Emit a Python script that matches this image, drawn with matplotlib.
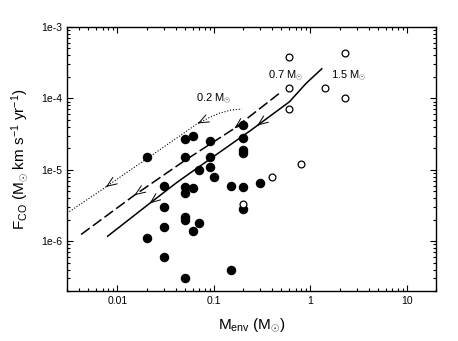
import numpy as np
import matplotlib
matplotlib.use('Agg')
import matplotlib.pyplot as plt
from matplotlib.ticker import FixedLocator, LogLocator, NullFormatter

plt.rcParams['font.family'] = ['Liberation Sans', 'DejaVu Sans']
plt.rcParams['mathtext.fontset'] = 'custom'
plt.rcParams['mathtext.rm'] = 'Liberation Sans'
plt.rcParams['mathtext.it'] = 'Liberation Sans'

# filled circles (M_env, F_CO)
filled_m = [0.02, 0.02, 0.03, 0.03, 0.03, 0.03, 0.05, 0.05, 0.05, 0.05, 0.05,
            0.05, 0.05, 0.06, 0.06, 0.06, 0.07, 0.07, 0.09, 0.09, 0.09, 0.1,
            0.15, 0.15, 0.2, 0.2, 0.2, 0.2, 0.2, 0.2, 0.3]
filled_f = [1.5e-5, 1.1e-6, 6e-6, 3e-6, 1.6e-6, 6e-7, 2.7e-5, 1.5e-5, 5.8e-6, 4.7e-6, 2.2e-6,
            2.0e-6, 3e-7, 3.0e-5, 5.5e-6, 1.4e-6, 1.0e-5, 1.8e-6, 2.5e-5, 1.5e-5, 1.1e-5, 8e-6,
            6e-6, 4e-7, 4.2e-5, 2.8e-5, 1.9e-5, 1.7e-5, 5.7e-6, 2.8e-6, 6.5e-6]

# open circles
open_m = [0.2, 0.4, 0.8, 0.6, 0.6, 0.6, 1.4, 2.3, 2.3]
open_f = [3.3e-6, 8e-6, 1.2e-5, 3.8e-4, 1.4e-4, 7e-5, 1.4e-4, 4.3e-4, 1.0e-4]

# evolutionary tracks
track02_m = [0.003, 0.0076, 0.02, 0.068, 0.09, 0.114, 0.15, 0.194]
track02_f = [2.46e-6, 5.75e-6, 1.42e-5, 4.46e-5, 5.4e-5, 6.2e-5, 6.85e-5, 7.1e-5]
track07_m = [0.0042, 0.015, 0.05, 0.163, 0.5]
track07_f = [1.24e-6, 4.4e-6, 1.35e-5, 3.8e-5, 1.24e-4]
track15_m = [0.0079, 0.0215, 0.042, 0.243, 0.605, 0.90, 1.31]
track15_f = [1.17e-6, 3.37e-6, 6.76e-6, 3.6e-5, 8.95e-5, 1.62e-4, 2.6e-4]

arrows02 = [0.0076, 0.068]
arrows07 = [0.015, 0.163]
arrows15 = [0.0215, 0.28]


def curve_at(xs, ys, x):
    return 10 ** np.interp(np.log10(x), np.log10(xs), np.log10(ys))


fig = plt.figure(figsize=(4.58, 3.41), dpi=100)
ax = fig.add_axes([0.1463, 0.1466, 0.8057, 0.7742])

ax.plot(track02_m, track02_f, color='k', lw=0.8, linestyle=(0, (1, 1.6)))
ax.plot(track07_m, track07_f, color='k', lw=1.1, linestyle=(0, (7, 2.5)))
ax.plot(track15_m, track15_f, color='k', lw=1.1)

for xs, ys, arr in [(track02_m, track02_f, arrows02),
                    (track07_m, track07_f, arrows07),
                    (track15_m, track15_f, arrows15)]:
    for a in arr:
        tip = (a, curve_at(xs, ys, a))
        tail = (a * 1.03, curve_at(xs, ys, a * 1.03))
        ax.annotate('', xy=tip, xytext=tail,
                    arrowprops=dict(arrowstyle='->,head_length=0.7,head_width=0.28',
                                    lw=0.7, color='k', shrinkA=0, shrinkB=0,
                                    mutation_scale=10))

ax.scatter(filled_m, filled_f, s=34, color='k', zorder=3)
ax.scatter(open_m, open_f, s=24, facecolor='white', edgecolor='k', lw=0.9, zorder=4)

ax.text(0.1, 9.8e-5, r'0.2 M$_{\odot}$', fontsize=8, ha='center', va='center')
ax.text(0.56, 2.1e-4, r'0.7 M$_{\odot}$', fontsize=8, ha='center', va='center')
ax.text(2.48, 2.1e-4, r'1.5 M$_{\odot}$', fontsize=8, ha='center', va='center')

ax.set_xscale('log')
ax.set_yscale('log')
ax.set_xlim(0.003, 20)
ax.set_ylim(2e-7, 1e-3)

ax.xaxis.set_major_locator(FixedLocator([0.01, 0.1, 1, 10]))
ax.set_xticklabels(['0.01', '0.1', '1', '10'])
ax.yaxis.set_major_locator(FixedLocator([1e-6, 1e-5, 1e-4, 1e-3]))
ax.set_yticklabels(['1e-6', '1e-5', '1e-4', '1e-3'])
ax.xaxis.set_minor_locator(LogLocator(base=10, subs=np.arange(2, 10)))
ax.yaxis.set_minor_locator(LogLocator(base=10, subs=np.arange(2, 10)))
ax.xaxis.set_minor_formatter(NullFormatter())
ax.yaxis.set_minor_formatter(NullFormatter())
ax.tick_params(which='both', direction='in', top=True, right=True, labelsize=7.5, width=0.8)
ax.tick_params(which='major', length=4)
ax.tick_params(which='minor', length=2.5)
for s in ax.spines.values():
    s.set_linewidth(1.0)

ax.set_xlabel(r'M$_{\rm env}$ (M$_{\odot}$)', fontsize=11, labelpad=8)
ax.set_ylabel(r'F$_{\rm CO}$ (M$_{\odot}$ km s$^{-1}$ yr$^{-1}$)', fontsize=11, labelpad=8)

fig.savefig('out.png', dpi=100)
